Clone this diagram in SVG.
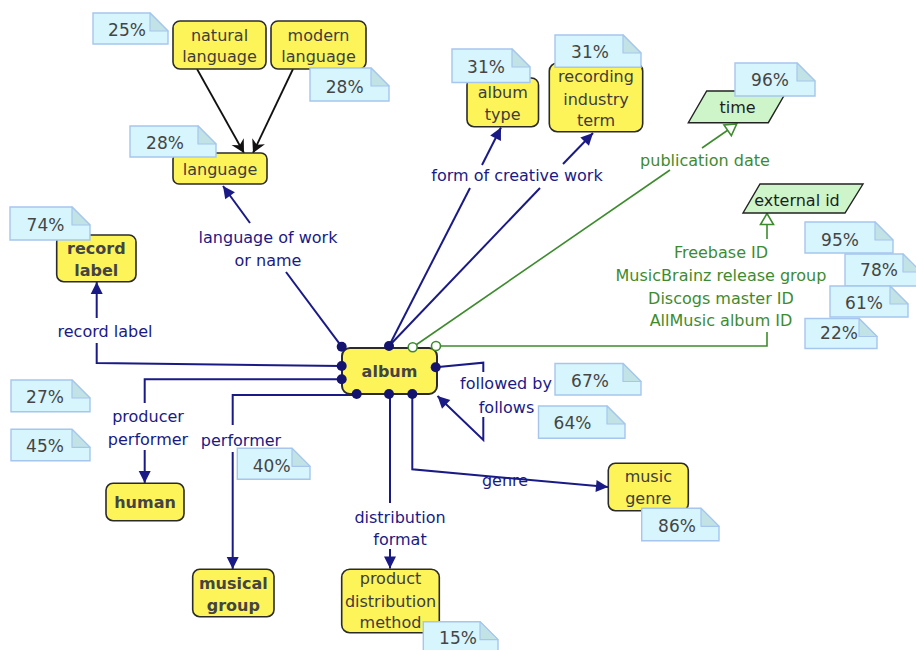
<svg xmlns="http://www.w3.org/2000/svg" width="916" height="650" viewBox="0 0 916 650">
<defs>
<style>
.node rect{fill:#fdf45a;stroke:#2b2b2b;stroke-width:1.6}
.node text{font-family:"DejaVu Sans",Verdana,sans-serif;font-size:16px;fill:#3d3d3d;text-anchor:middle}
.node text.b{font-weight:bold;fill:#444}
.attr polygon{fill:#cdf5c9;stroke:#222;stroke-width:1.4}
.attr text{font-family:"DejaVu Sans",Verdana,sans-serif;font-size:16px;fill:#1e1e1e;text-anchor:middle}
.note .body{fill:#d7f5fd;stroke:#a6c6ee;stroke-width:1.4}
.note .fold{fill:#c2e3e5;stroke:#a6c6ee;stroke-width:1.2;stroke-linejoin:round}
.note text{font-family:"DejaVu Sans",Verdana,sans-serif;font-size:17px;fill:#454545;text-anchor:middle}
.rel{fill:none;stroke:#1a1a86;stroke-width:2}
.sub{fill:none;stroke:#111;stroke-width:1.8}
.ext{fill:none;stroke:#3e8b2f;stroke-width:1.6}
.lbl{font-family:"DejaVu Sans",Verdana,sans-serif;font-size:16px;fill:#1a1a86;text-anchor:middle}
.glbl{font-family:"DejaVu Sans",Verdana,sans-serif;font-size:16px;fill:#3e8b2f;text-anchor:middle}
.dot{fill:#14146e}
.odot{fill:#fff;stroke:#3e8b2f;stroke-width:1.6}
</style>
<marker id="arrNavy" markerUnits="userSpaceOnUse" markerWidth="14" markerHeight="14" viewBox="-13 -7 14 14" refX="0" refY="0" orient="auto">
<path d="M0,0 L-12,-6 L-12,6 Z" fill="#1a1a86"/>
</marker>
<marker id="arrBlack" markerUnits="userSpaceOnUse" markerWidth="15" markerHeight="16" viewBox="-14 -8 15 16" refX="0" refY="0" orient="auto">
<path d="M0,0 L-13,-7 L-9,0 L-13,7 Z" fill="#111"/>
</marker>
<marker id="arrOpen" markerUnits="userSpaceOnUse" markerWidth="15" markerHeight="18" viewBox="-13 -9 15 18" refX="0" refY="0" orient="auto">
<path d="M0,0 L-11,-6.5 L-11,6.5 Z" fill="#fff" stroke="#3e8b2f" stroke-width="1.6"/>
</marker>
</defs>
<rect width="916" height="650" fill="#fff"/>

<!-- connectors -->
<g id="connectors">
<!-- subclass links -->
<line class="sub" x1="197" y1="69" x2="244" y2="153" marker-end="url(#arrBlack)"/>
<line class="sub" x1="293" y1="69" x2="253" y2="153" marker-end="url(#arrBlack)"/>
<!-- language of work or name -->
<line class="rel" x1="341.7" y1="346.7" x2="286" y2="272"/>
<line class="rel" x1="250" y1="223" x2="223" y2="186" marker-end="url(#arrNavy)"/>
<text class="lbl" x="268" y="243">language of work</text>
<text class="lbl" x="268" y="266">or name</text>
<!-- form of creative work -->
<line class="rel" x1="389" y1="346" x2="470" y2="188"/>
<line class="rel" x1="482" y1="165" x2="501" y2="127.5" marker-end="url(#arrNavy)"/>
<line class="rel" x1="389" y1="346" x2="540" y2="188"/>
<line class="rel" x1="563" y1="164" x2="593" y2="133" marker-end="url(#arrNavy)"/>
<text class="lbl" x="517" y="181">form of creative work</text>
<!-- publication date -->
<line class="ext" x1="413" y1="347" x2="670" y2="170"/>
<line class="ext" x1="702" y1="148" x2="736.7" y2="124" marker-end="url(#arrOpen)"/>
<text class="glbl" x="705" y="166">publication date</text>
<!-- external identifiers -->
<path class="ext" d="M436,346 H767 V332"/>
<line class="ext" x1="767" y1="239" x2="767" y2="213.5" marker-end="url(#arrOpen)"/>
<text class="glbl" x="721" y="257.5">Freebase ID</text>
<text class="glbl" x="721" y="281">MusicBrainz release group</text>
<text class="glbl" x="721" y="303.5">Discogs master ID</text>
<text class="glbl" x="721" y="326">AllMusic album ID</text>
<!-- record label -->
<path class="rel" d="M341.7,366 L96.7,363 V343"/>
<line class="rel" x1="96.7" y1="318" x2="96.7" y2="282" marker-end="url(#arrNavy)"/>
<text class="lbl" x="105" y="337">record label</text>
<!-- producer / performer -> human -->
<path class="rel" d="M341.7,379.3 H144.7 V403"/>
<line class="rel" x1="144.7" y1="450" x2="144.7" y2="483" marker-end="url(#arrNavy)"/>
<text class="lbl" x="148" y="422">producer</text>
<text class="lbl" x="148" y="445">performer</text>
<!-- performer -> musical group -->
<path class="rel" d="M356.7,395 H232.7 V425"/>
<line class="rel" x1="232.7" y1="452" x2="232.7" y2="569" marker-end="url(#arrNavy)"/>
<text class="lbl" x="241" y="445.5">performer</text>
<!-- distribution format -->
<line class="rel" x1="390" y1="394" x2="390" y2="503"/>
<line class="rel" x1="390" y1="549" x2="390" y2="568.5" marker-end="url(#arrNavy)"/>
<text class="lbl" x="400" y="523">distribution</text>
<text class="lbl" x="400" y="545">format</text>
<!-- genre -->
<path class="rel" d="M412.3,394 V469.3 L608,487" marker-end="url(#arrNavy)"/>
<text class="lbl" x="505" y="486">genre</text>
<!-- followed by / follows -->
<path class="rel" d="M435.7,367.3 L483.3,362.7 V372"/>
<path class="rel" d="M483.3,417 V440 L437.5,396" marker-end="url(#arrNavy)"/>
<text class="lbl" x="506" y="389">followed by</text>
<text class="lbl" x="506.5" y="413">follows</text>
</g>

<!-- concept nodes -->
<g id="natural-language" class="node">
<rect x="173" y="21" width="93" height="48" rx="7"/>
<text x="219.5" y="40.5">natural</text>
<text x="219.5" y="62">language</text>
</g>
<g id="modern-language" class="node">
<rect x="271" y="21" width="95" height="48" rx="7"/>
<text x="318.5" y="40.5">modern</text>
<text x="318.5" y="62">language</text>
</g>
<g id="language" class="node">
<rect x="173" y="153" width="94" height="31" rx="6"/>
<text x="220" y="175">language</text>
</g>
<g id="album-type" class="node">
<rect x="467" y="78" width="71.5" height="48.7" rx="7"/>
<text x="502.7" y="98">album</text>
<text x="502.7" y="119.5">type</text>
</g>
<g id="recording-industry-term" class="node">
<rect x="549.3" y="63" width="93.4" height="68.7" rx="8"/>
<text x="596" y="82">recording</text>
<text x="596" y="104.5">industry</text>
<text x="596" y="126">term</text>
</g>
<g id="time" class="attr">
<polygon points="706.7,91 786.7,91 768.3,122.7 688.3,122.7"/>
<text x="737.5" y="113">time</text>
</g>
<g id="external-id" class="attr">
<polygon points="760,184 863,184 845,213 743,213"/>
<text x="797" y="205.5">external id</text>
</g>
<g id="record-label" class="node">
<rect x="56.7" y="235" width="79.3" height="46.7" rx="7"/>
<text class="b" x="96.3" y="254">record</text>
<text class="b" x="96.3" y="276">label</text>
</g>
<g id="album" class="node">
<rect x="342" y="348" width="95" height="46" rx="8" style="stroke-width:2"/>
<text class="b" x="389.5" y="377">album</text>
</g>
<g id="human" class="node">
<rect x="106" y="483.3" width="78" height="37.4" rx="7"/>
<text class="b" x="145" y="508">human</text>
</g>
<g id="musical-group" class="node">
<rect x="192.7" y="569.3" width="81.3" height="47.4" rx="7"/>
<text class="b" x="233.3" y="589">musical</text>
<text class="b" x="233.3" y="610.5">group</text>
</g>
<g id="product-distribution-method" class="node">
<rect x="341.7" y="569.3" width="97.6" height="63.4" rx="8"/>
<text x="390.5" y="584">product</text>
<text x="390.5" y="606.5">distribution</text>
<text x="390.5" y="628">method</text>
</g>
<g id="music-genre" class="node">
<rect x="608.3" y="463.3" width="80" height="47.4" rx="7"/>
<text x="648.3" y="482">music</text>
<text x="648.3" y="504">genre</text>
</g>

<!-- connection points on album -->
<g id="album-ports">
<circle class="dot" cx="341.7" cy="346.7" r="5"/>
<circle class="dot" cx="389" cy="346" r="5"/>
<circle class="dot" cx="341.7" cy="366" r="5"/>
<circle class="dot" cx="341.7" cy="379.3" r="5"/>
<circle class="dot" cx="356.7" cy="394" r="5"/>
<circle class="dot" cx="389" cy="394" r="5"/>
<circle class="dot" cx="412.3" cy="394" r="5"/>
<circle class="dot" cx="435.7" cy="367.3" r="5"/>
<circle class="odot" cx="412.7" cy="347.3" r="4.5"/>
<circle class="odot" cx="436" cy="346" r="4.5"/>
</g>

<!-- percentage notes -->
<g id="note-25" class="note">
<path class="body" d="M93,13 H150 L168,31 V44 H93 Z"/><path class="fold" d="M150,13 V31 H168 Z"/>
<text x="127" y="36">25%</text>
</g>
<g id="note-28a" class="note">
<path class="body" d="M310,68 H371 L389,86 V101 H310 Z"/><path class="fold" d="M371,68 V86 H389 Z"/>
<text x="344.7" y="92.5">28%</text>
</g>
<g id="note-28b" class="note">
<path class="body" d="M130,126 H198 L216,144 V157 H130 Z"/><path class="fold" d="M198,126 V144 H216 Z"/>
<text x="165" y="149">28%</text>
</g>
<g id="note-31a" class="note">
<path class="body" d="M452,49 H512 L530,67 V82.5 H452 Z"/><path class="fold" d="M512,49 V67 H530 Z"/>
<text x="486" y="72.5">31%</text>
</g>
<g id="note-31b" class="note">
<path class="body" d="M555,35 H623 L641,53 V67.3 H555 Z"/><path class="fold" d="M623,35 V53 H641 Z"/>
<text x="590" y="57.5">31%</text>
</g>
<g id="note-96" class="note">
<path class="body" d="M735,63 H797 L815,81 V96 H735 Z"/><path class="fold" d="M797,63 V81 H815 Z"/>
<text x="770" y="86">96%</text>
</g>
<g id="note-74" class="note">
<path class="body" d="M10,207 H72 L90,225 V240 H10 Z"/><path class="fold" d="M72,207 V225 H90 Z"/>
<text x="45.5" y="231">74%</text>
</g>
<g id="note-95" class="note">
<path class="body" d="M805,222 H875 L893,240 V253 H805 Z"/><path class="fold" d="M875,222 V240 H893 Z"/>
<text x="840" y="246">95%</text>
</g>
<g id="note-78" class="note">
<path class="body" d="M845,254 H903 L921,272 V286 H845 Z"/><path class="fold" d="M903,254 V272 H921 Z"/>
<text x="879" y="276">78%</text>
</g>
<g id="note-61" class="note">
<path class="body" d="M830,286 H890 L908,304 V317 H830 Z"/><path class="fold" d="M890,286 V304 H908 Z"/>
<text x="864" y="308.5">61%</text>
</g>
<g id="note-22" class="note">
<path class="body" d="M805,318.5 H859 L877,336.5 V348.5 H805 Z"/><path class="fold" d="M859,318.5 V336.5 H877 Z"/>
<text x="839" y="339">22%</text>
</g>
<g id="note-67" class="note">
<path class="body" d="M555,363.5 H623 L641,381.5 V395 H555 Z"/><path class="fold" d="M623,363.5 V381.5 H641 Z"/>
<text x="590" y="387">67%</text>
</g>
<g id="note-64" class="note">
<path class="body" d="M538.5,406 H607 L625,424 V438.3 H538.5 Z"/><path class="fold" d="M607,406 V424 H625 Z"/>
<text x="572.5" y="429">64%</text>
</g>
<g id="note-27" class="note">
<path class="body" d="M11,380 H72 L90,398 V411.7 H11 Z"/><path class="fold" d="M72,380 V398 H90 Z"/>
<text x="45" y="403">27%</text>
</g>
<g id="note-45" class="note">
<path class="body" d="M11,429.3 H72 L90,447.3 V460.7 H11 Z"/><path class="fold" d="M72,429.3 V447.3 H90 Z"/>
<text x="45" y="452">45%</text>
</g>
<g id="note-40" class="note">
<path class="body" d="M237.3,448.3 H292 L310,466.3 V479.3 H237.3 Z"/><path class="fold" d="M292,448.3 V466.3 H310 Z"/>
<text x="271.7" y="472">40%</text>
</g>
<g id="note-86" class="note">
<path class="body" d="M641.7,508.3 H701 L719,526.3 V540.7 H641.7 Z"/><path class="fold" d="M701,508.3 V526.3 H719 Z"/>
<text x="677" y="532">86%</text>
</g>
<g id="note-15" class="note">
<path class="body" d="M423.3,621.7 H480 L498,639.7 V652 H423.3 Z"/><path class="fold" d="M480,621.7 V639.7 H498 Z"/>
<text x="458" y="644">15%</text>
</g>
</svg>
